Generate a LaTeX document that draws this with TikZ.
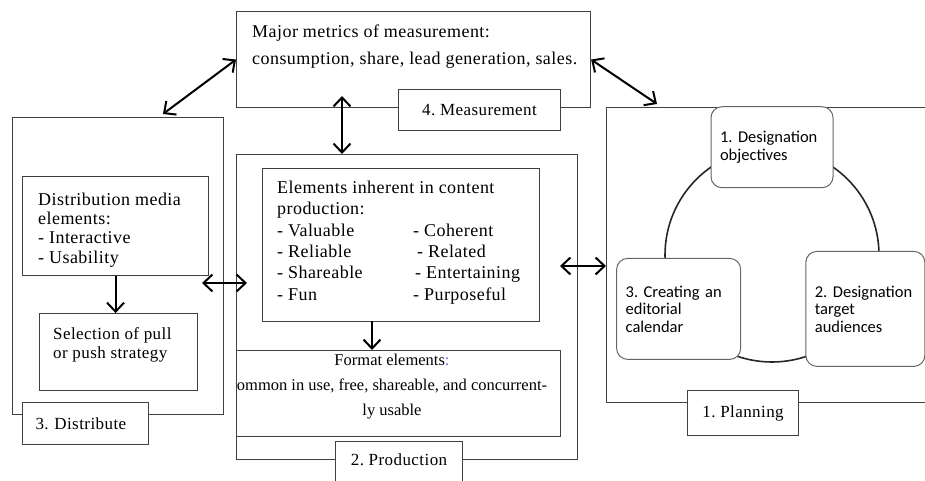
\documentclass[tikz,border=0pt]{standalone}
\usepackage{fontspec}
\setmainfont{Liberation Serif}[LetterSpace=2.5]
\newfontfamily\calfont{Carlito}
\usetikzlibrary{positioning,arrows.meta,calc}
\tikzstyle{obox}=[rectangle, draw=black!75, line width=1.1pt, inner sep=0pt, anchor=north west]
\tikzstyle{ibox}=[rectangle, draw=black!75, fill=white, line width=1.1pt, inner sep=0pt, anchor=north west]
\tikzstyle{lbox}=[rectangle, draw=black!75, fill=white, line width=1.1pt, inner sep=0pt, anchor=north west, font=\fontsize{17}{20}\selectfont]
\tikzstyle{rbox}=[rectangle, rounded corners=11pt, draw=black!60, fill=white, line width=1pt, inner sep=9pt, align=left, font=\calfont\fontsize{16.5}{17.5}\selectfont]
\tikzstyle{ptext}=[anchor=north west, inner sep=0pt, align=left]
\tikzstyle{parrow}=[<->, line width=2pt]
\tikzstyle{sarrow}=[->, line width=2pt]
\newcommand{\erow}[2]{\makebox[136pt][l]{#1}#2}
\frenchspacing

\begin{document}
\begin{tikzpicture}[node distance=0mm, x=1pt, y=-1pt, >={Straight Barb[length=9pt,width=17pt]}]
\useasboundingbox (0,0) rectangle (925,481);
\node (MEAS) [obox, minimum width=354, minimum height=96] at (236,11) {};
\node (DIST) [obox, minimum width=211, minimum height=297] at (12,117) {};
\node (PROD) [obox, minimum width=341, minimum height=305] at (236,154) {};
\node (PLAN) [obox, minimum width=330, minimum height=295] at (606,107) {};
\node (MEASL) [lbox, minimum width=162, minimum height=41] at (398,89) {4. Measurement};
\node (DISTL) [lbox, text width=100pt, inner xsep=13pt, align=left, minimum height=42] at (22,402) {3. Distribute};
\node (PRODL) [lbox, minimum width=127, text height=24pt, text depth=25pt] at (335,441) {2. Production};
\node (PLANL) [lbox, minimum width=111, minimum height=45] at (687,390) {1. Planning};
\node (DME) [ibox, minimum width=186, minimum height=99] at (22,176) {};
\node (SEL) [ibox, below=37pt of DME, xshift=3pt, minimum width=158, minimum height=77] {};
\node (ELEM) [ibox, minimum width=277, minimum height=153] at (262,168) {};
\node (FMT) [ibox, minimum width=324, minimum height=86] at (236,350) {};
\node (MEAST) [ptext, font=\fontsize{18}{27}\selectfont] at (252,24.7) {Major metrics of measurement:\\consumption, share, lead generation, sales.};
\node (DMET) [ptext, font=\fontsize{18}{19.3}\selectfont] at (38,192.7) {Distribution media\\elements:\\- Interactive\\- Usability};
\node (SELT) [ptext, font=\fontsize{17}{19.5}\selectfont] at (53,327) {Selection of pull\\or push strategy};
\node (ELEMT) [ptext, font=\fontsize{18}{21.4}\selectfont] at (277,180.7) {Elements inherent in content\\production:\\\erow{- Valuable}{- Coherent}\\\erow{- Reliable}{\hspace{4pt}- Related}\\\erow{- Shareable}{\hspace{2pt}- Entertaining}\\\erow{- Fun}{- Purposeful}};
\node (FMTT) [anchor=north, inner sep=0pt, align=center, font=\addfontfeatures{LetterSpace=0}\fontsize{16.5}{25}\selectfont] at (392,353.7) {Format elements\textcolor{blue!60}{:}\\ommon in use, free, shareable, and concurrent-\\ly usable};
\node (CYC) [circle, draw=black!85, line width=1.6pt, minimum size=214pt, inner sep=0pt] at (772,255) {};
\node (DO) [rbox, text width=104pt, minimum height=81] at (CYC.north) {1. Designation\\objectives};
\node (DT) [rbox, text width=101pt, minimum height=115] at (CYC.-30) {2. Designation\\target\\audiences};
\node (CE) [rbox, text width=106pt, minimum height=101] at (CYC.210) {3. Creating an\\editorial\\calendar};
\coordinate (MD) at (163,114);
\coordinate (MP) at (657,104);
\coordinate (MV) at (342,96);
\coordinate (DP) at (202,283);
\coordinate (PD) at (247,283);
\coordinate (PP) at (560,266);
\coordinate (EF) at (372,321);
\draw[parrow] (MD) -- (MEAS.west);
\draw[parrow] (MEAS.east) -- (MP);
\draw[parrow] (MV) -- (MV |- PROD.north);
\draw[parrow] (DP) -- (PD);
\draw[parrow] (PP) -- (PP -| PLAN.west);
\draw[sarrow] (DME.south) -- (DME.south |- SEL.north);
\draw[sarrow] (EF) -- (EF |- FMT.north);
\end{tikzpicture}
\end{document}
